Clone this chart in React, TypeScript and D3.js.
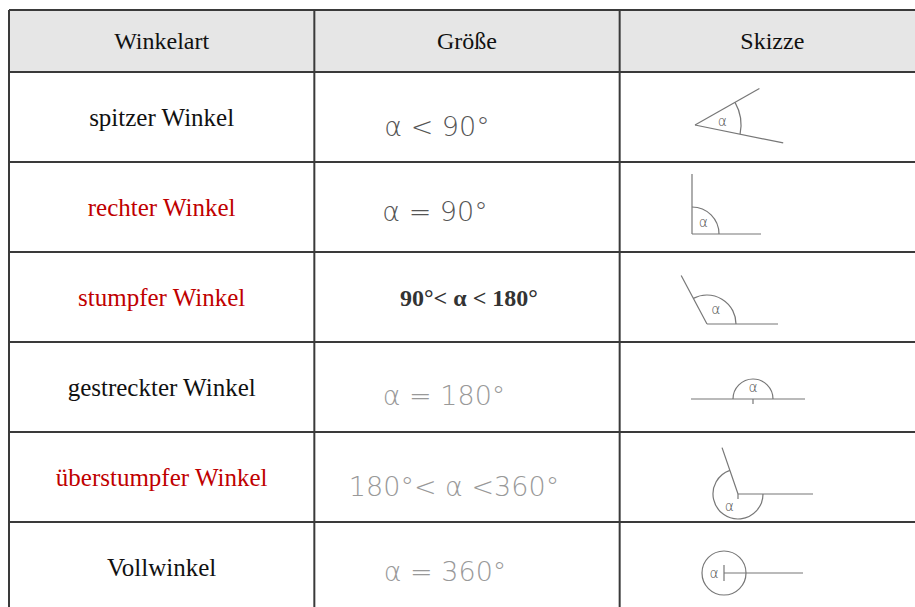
import React, { useRef, useEffect } from "react";
import * as d3 from "d3";

// table content
const headers = ["Winkelart", "Größe", "Skizze"];
const angleNames = [
  "spitzer Winkel",
  "rechter Winkel",
  "stumpfer Winkel",
  "gestreckter Winkel",
  "überstumpfer Winkel",
  "Vollwinkel",
];
const nameIsRed = [false, true, true, false, true, false];
const sizeTexts = ["α < 90°", "α = 90°", "90°< α < 180°", "α = 180°", "180°< α <360°", "α = 360°"];
const sizeIsPrinted = [false, false, true, false, false, false];

// sketch geometry: ray directions in degrees (counter-clockwise from +x)
const rayFrom = [-11.5, 0, 0, 0, 109, 0];
const rayTo = [29.5, 90, 118, 180, 360, 360];
const rayLenFrom = [90, 69, 71, 52, 49, 79];
const rayLenTo = [74, 60, 55, 62, 75, 0];

const W = 915;
const H = 607;

const App = () => {
  const svgRef = useRef(null);

  useEffect(() => {
    const svg = d3.select(svgRef.current);
    svg.selectAll("*").remove();

    const top = 10;
    const headerBottom = 72;
    const col = d3.scaleBand().domain(d3.range(3).map(String)).range([9, 925]);
    const row = d3
      .scaleBand()
      .domain(d3.range(angleNames.length).map(String))
      .range([headerBottom, headerBottom + 90 * angleNames.length]);

    const colMid = (i) => col(String(i)) + col.bandwidth() / 2;
    const rowMid = (i) => row(String(i)) + row.bandwidth() / 2;

    // header background
    svg
      .append("rect")
      .attr("x", col("0"))
      .attr("y", top)
      .attr("width", 925 - col("0"))
      .attr("height", headerBottom - top)
      .attr("fill", "#e6e6e6");

    svg
      .selectAll("text.head")
      .data(headers)
      .enter()
      .append("text")
      .attr("class", "head")
      .attr("x", (d, i) => colMid(i))
      .attr("y", (top + headerBottom) / 2 + 8)
      .attr("text-anchor", "middle")
      .attr("font-family", "'Liberation Serif', serif")
      .attr("font-size", 24)
      .attr("fill", "#111")
      .text((d) => d);

    // first column: names
    svg
      .selectAll("text.name")
      .data(angleNames)
      .enter()
      .append("text")
      .attr("class", "name")
      .attr("x", colMid(0))
      .attr("y", (d, i) => rowMid(i) + 9)
      .attr("text-anchor", "middle")
      .attr("font-family", "'Liberation Serif', serif")
      .attr("font-size", 25)
      .attr("fill", (d, i) => (nameIsRed[i] ? "#c00000" : "#111"))
      .text((d) => d);

    // second column: sizes (handwritten look / printed)
    const handColor = ["#555", "#555", "#333", "#999", "#999", "#999"];
    const handShift = [-30, -32, 2, -23, -13, -22];
    const handDy = [10, 5, 0, 9, 10, 5];
    svg
      .selectAll("text.size")
      .data(sizeTexts)
      .enter()
      .append("text")
      .attr("class", "size")
      .attr("x", (d, i) => colMid(1) + handShift[i])
      .attr("y", (d, i) => rowMid(i) + handDy[i] + 9)
      .attr("text-anchor", "middle")
      .attr("font-family", (d, i) =>
        sizeIsPrinted[i] ? "'Liberation Serif', serif" : "'DejaVu Sans', sans-serif"
      )
      .attr("font-weight", (d, i) => (sizeIsPrinted[i] ? "bold" : 200))
      .attr("font-size", (d, i) => (sizeIsPrinted[i] ? 24 : 27))
      .attr("fill", (d, i) => handColor[i])
      .text((d) => d);

    // third column: sketches
    const vertexX = [695, 692, 707, 753, 738, 724];
    const vertexDy = [8, 27, 27, 12, 17, 6];
    const arcR = [46, 27, 29, 20, 25, 22];
    const rad = (deg) => (deg * Math.PI) / 180;

    angleNames.forEach((name, i) => {
      const g = svg.append("g").attr("transform", `translate(${vertexX[i]},${rowMid(i) + vertexDy[i]})`);
      const a0 = rad(rayFrom[i]);
      const a1 = rad(rayTo[i]);
      const ray = (a, len) =>
        g
          .append("line")
          .attr("x1", 0)
          .attr("y1", 0)
          .attr("x2", Math.cos(a) * len)
          .attr("y2", -Math.sin(a) * len)
          .attr("stroke", "#777")
          .attr("stroke-width", 1.2);
      ray(a0, rayLenFrom[i]);
      if (rayLenTo[i] > 0) ray(a1, rayLenTo[i]);

      const p = d3.path();
      p.moveTo(Math.cos(a0) * arcR[i], -Math.sin(a0) * arcR[i]);
      p.arc(0, 0, arcR[i], -a0, -a1, true);
      g.append("path")
        .attr("d", p.toString())
        .attr("fill", "none")
        .attr("stroke", "#777")
        .attr("stroke-width", 1.2);

      const mid = (a0 + a1) / 2;
      const dist = rayTo[i] - rayFrom[i] >= 360 ? arcR[i] * 0.45 : arcR[i] * 0.6;
      g.append("text")
        .attr("x", Math.cos(mid) * dist)
        .attr("y", -Math.sin(mid) * dist)
        .attr("dy", "0.35em")
        .attr("text-anchor", "middle")
        .attr("font-family", "'DejaVu Sans', sans-serif")
        .attr("font-weight", 200)
        .attr("font-size", 14)
        .attr("fill", "#555")
        .text("α");

      // little tick at the vertex
      if (rayTo[i] - rayFrom[i] >= 180) {
        g.append("line")
          .attr("x1", 0)
          .attr("x2", 0)
          .attr("y1", rayTo[i] - rayFrom[i] >= 360 ? -8 : 0)
          .attr("y2", rayTo[i] - rayFrom[i] >= 360 ? 8 : 5)
          .attr("stroke", "#777")
          .attr("stroke-width", 1.2);
      }
    });

    // grid lines
    const grid = svg.append("g").attr("stroke", "#3a3a3a").attr("stroke-width", 2);
    const ys = [top, headerBottom, ...angleNames.map((d, i) => row(String(i)) + row.bandwidth())];
    grid
      .selectAll("line.h")
      .data(ys)
      .enter()
      .append("line")
      .attr("x1", col("0"))
      .attr("x2", W + 10)
      .attr("y1", (d) => d)
      .attr("y2", (d) => d);
    grid
      .selectAll("line.v")
      .data([0, 1, 2])
      .enter()
      .append("line")
      .attr("x1", (d) => col(String(d)))
      .attr("x2", (d) => col(String(d)))
      .attr("y1", top)
      .attr("y2", H + 10);
  }, []);

  return (
    <svg
      ref={svgRef}
      width={W}
      height={H}
      style={{ position: "absolute", left: 0, top: 0, background: "#fff" }}
    />
  );
};

export default App;
